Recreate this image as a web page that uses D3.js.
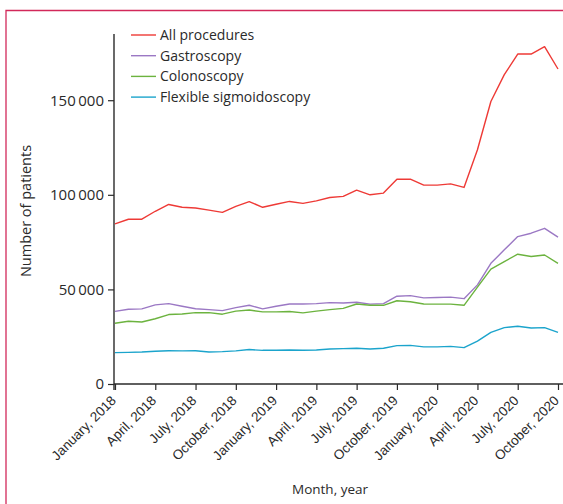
<!DOCTYPE html>
<html>
<head>
<meta charset="utf-8">
<script src="https://cdn.jsdelivr.net/npm/d3@7"></script>
<style>
  html, body { margin: 0; padding: 0; background: #fff; }
  svg { display: block; font-family: "Open Sans", "Noto Sans", sans-serif; }
</style>
</head>
<body>
<div id="chart"></div>
<script>
const months = ["January","February","March","April","May","June","July","August","September","October","November","December"];
const years = [2018, 2019, 2020];
// 34 months: January 2018 .. October 2020
const categories = [];
years.forEach(y => months.forEach(m => categories.push(m + ", " + y)));
categories.length = 34;

const seriesNames = ["All procedures", "Gastroscopy", "Colonoscopy", "Flexible sigmoidoscopy"];
const seriesColors = ["#ee3a36", "#9b78c4", "#6cb33f", "#1ba4cc"];

const allProcedures = [84600, 87100, 87100, 91300, 94900, 93400, 93000, 91900, 90700, 93900, 96400, 93400,
  95000, 96500, 95500, 96800, 98600, 99200, 102500, 100000, 100900, 108200, 108300, 105100,
  105100, 105800, 103900, 123800, 149300, 163500, 174400, 174400, 178300, 166500];
const gastroscopy = [38400, 39500, 39700, 41800, 42500, 41100, 39800, 39300, 38800, 40400, 41600, 39700,
  41100, 42300, 42300, 42500, 43000, 42800, 43200, 42200, 42500, 46400, 46700, 45500,
  45700, 45900, 45100, 52400, 63800, 70900, 77900, 79700, 82300, 77600];
const colonoscopy = [32100, 33200, 32800, 34500, 36700, 37000, 37700, 37700, 36900, 38500, 39100, 38100,
  38100, 38300, 37600, 38500, 39300, 40000, 42300, 41600, 41600, 44000, 43500, 42300,
  42200, 42200, 41600, 51200, 60700, 64700, 68600, 67400, 68200, 63800];
const sigmoidoscopy = [16600, 16700, 16900, 17300, 17600, 17500, 17600, 16900, 17100, 17500, 18200, 17800,
  17800, 18000, 17800, 18000, 18500, 18700, 18900, 18500, 18900, 20300, 20400, 19600,
  19600, 19900, 19200, 22700, 27300, 29800, 30500, 29600, 29800, 27300];
const seriesValues = [allProcedures, gastroscopy, colonoscopy, sigmoidoscopy];

const yTicks = [0, 50000, 100000, 150000];
const xTickIndices = [0, 3, 6, 9, 12, 15, 18, 21, 24, 27, 30, 33];

const W = 563, H = 504;
const svg = d3.select("#chart").append("svg").attr("width", W).attr("height", H);

// frame
svg.append("path")
  .attr("d", `M6,${H} L6,10.5 L${W},10.5`)
  .attr("fill", "none").attr("stroke", "#d2295a").attr("stroke-width", 1.3);

const x = d3.scaleLinear().domain([0, 33]).range([115, 558]);
const y = d3.scaleLinear().domain([0, 185000]).range([384, 34]);

const axisColor = "#2a2a2a";
const textColor = "#2a2a2a";

// y axis
const fmt = v => d3.format(",")(v).replace(/,/g, "\u2009");
const yAxis = svg.append("g").attr("transform", "translate(114,0)")
  .call(d3.axisLeft(y).tickValues(yTicks).tickFormat(fmt).tickSize(6).tickPadding(4));
yAxis.select(".domain").attr("d", "M0,34V390").attr("stroke", axisColor).attr("stroke-width", 1.4);
yAxis.selectAll(".tick line").attr("stroke", axisColor).attr("stroke-width", 1.2);
yAxis.selectAll("text").attr("font-size", 15).attr("fill", textColor).attr("font-family", "Open Sans");

// x axis
const xAxis = svg.append("g").attr("transform", "translate(0,384)")
  .call(d3.axisBottom(x).tickValues(xTickIndices).tickFormat(i => categories[i]).tickSize(6).tickPadding(3));
xAxis.select(".domain").attr("d", `M114,0H${W}`).attr("stroke", axisColor).attr("stroke-width", 1.4);
xAxis.selectAll(".tick line").attr("stroke", axisColor).attr("stroke-width", 1.2);
xAxis.selectAll("text")
  .attr("font-size", 13.5).attr("fill", textColor)
  .attr("text-anchor", "end")
  .attr("dy", "0.35em")
  .attr("transform", "translate(-2,14) rotate(-45)")
  .attr("x", 0).attr("y", 0);

// axis titles
svg.append("text").attr("x", 330).attr("y", 494).attr("text-anchor", "middle")
  .attr("font-size", 13.5).attr("fill", textColor).text("Month, year");
svg.append("text").attr("transform", "translate(31,211) rotate(-90)").attr("text-anchor", "middle")
  .attr("font-size", 14.5).attr("fill", textColor).text("Number of patients");

// lines
const line = d3.line().x((d, i) => x(i)).y(d => y(d));
seriesValues.forEach((vals, k) => {
  svg.append("path").datum(vals)
    .attr("fill", "none").attr("stroke", seriesColors[k]).attr("stroke-width", 1.4)
    .attr("stroke-linejoin", "round")
    .attr("d", line);
});

// legend
const leg = svg.append("g");
seriesNames.forEach((name, k) => {
  const yy = 35 + k * 20.7;
  leg.append("line").attr("x1", 131).attr("x2", 156).attr("y1", yy).attr("y2", yy)
    .attr("stroke", seriesColors[k]).attr("stroke-width", 1.4);
  leg.append("text").attr("x", 160).attr("y", yy).attr("dy", "0.35em")
    .attr("font-size", 14).attr("fill", textColor).text(name);
});
</script>
</body>
</html>
